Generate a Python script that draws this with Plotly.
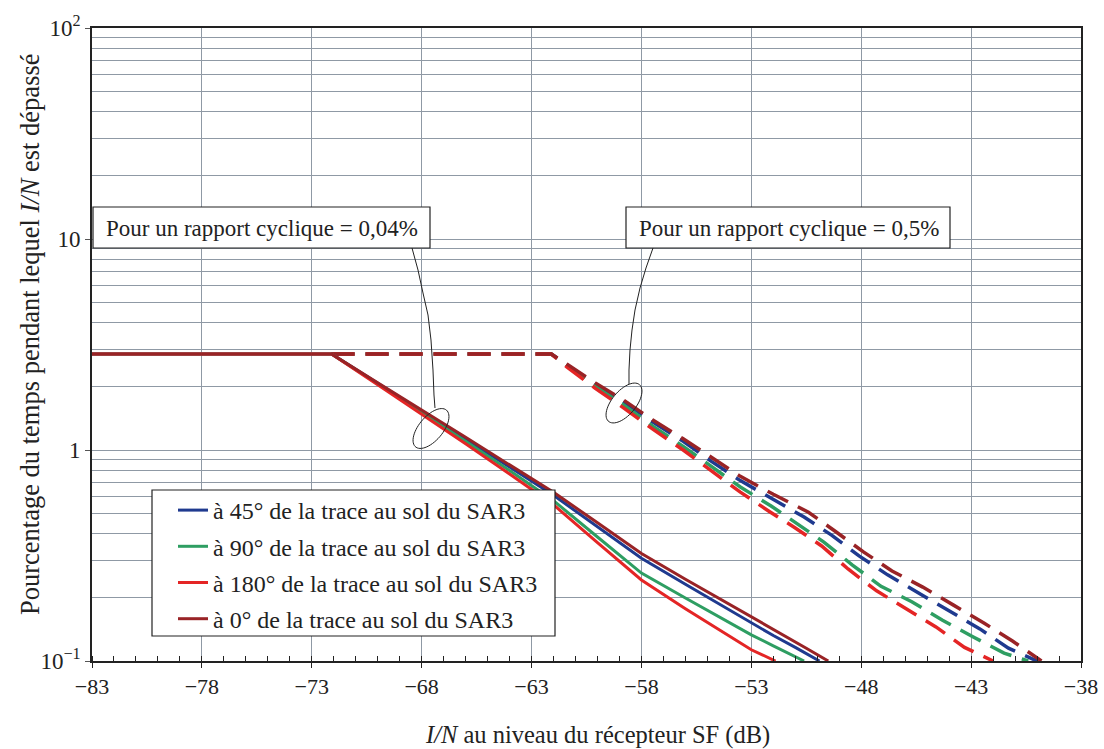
import numpy as np
import plotly.graph_objects as go

# ---------------- data ----------------
# duty cycle 0.04 % (solid)
s45_x = [-83, -72.1, -70, -68, -66, -64, -62, -60, -58, -56, -54, -53, -52, -51, -49.9]
s45_y = [2.85, 2.85, 2.07, 1.53, 1.13, 0.83, 0.61, 0.433, 0.307, 0.231, 0.174, 0.151, 0.132, 0.116, 0.1]

s90_x = [-83, -72.1, -70, -68, -66, -64, -62, -60, -58, -56, -54, -53, -52, -51, -50.6]
s90_y = [2.85, 2.85, 2.06, 1.51, 1.10, 0.80, 0.575, 0.387, 0.261, 0.199, 0.152, 0.133, 0.118, 0.105, 0.1]

s180_x = [-83, -72.1, -70, -68, -66, -64, -62, -60, -58, -56, -54, -53, -52.5, -51.9]
s180_y = [2.85, 2.85, 2.04, 1.48, 1.07, 0.77, 0.55, 0.364, 0.242, 0.177, 0.131, 0.113, 0.107, 0.1]

s0_x = [-83, -72.1, -70, -68, -66, -64, -62, -60, -58, -56, -54, -52, -50.5, -49.5]
s0_y = [2.85, 2.85, 2.08, 1.55, 1.15, 0.85, 0.63, 0.452, 0.323, 0.244, 0.186, 0.141, 0.115, 0.1]

# duty cycle 0.5 % (dashed)
d45_x = [-72.1, -62.1, -61.4, -60.1, -58.8, -57.5, -56.1, -54.8, -53.5, -52.0, -50.6, -49.35,
         -48.1, -46.8, -45.4, -44.0, -42.6, -41.3, -40.0]
d45_y = [2.85, 2.85, 2.54, 2.05, 1.69, 1.36, 1.10, 0.881, 0.716, 0.586, 0.481, 0.395,
         0.315, 0.256, 0.21, 0.173, 0.142, 0.115, 0.1]

d90_x = [-72.1, -62.1, -61.4, -60.1, -58.8, -57.5, -56.1, -54.8, -53.5, -52.1, -50.9, -49.7,
         -48.4, -47.1, -45.7, -44.3, -42.9, -41.5, -40.4]
d90_y = [2.85, 2.85, 2.51, 2.0, 1.63, 1.30, 1.04, 0.832, 0.668, 0.543, 0.447, 0.366,
         0.285, 0.226, 0.191, 0.156, 0.130, 0.109, 0.1]

d180_x = [-72.1, -62.1, -61.4, -60.1, -58.8, -57.5, -56.1, -54.8, -53.5, -52.2, -51.0, -49.8,
          -48.6, -47.3, -45.9, -44.6, -43.3, -42.0]
d180_y = [2.85, 2.85, 2.48, 1.96, 1.58, 1.26, 1.0, 0.794, 0.631, 0.513, 0.427, 0.351,
          0.273, 0.215, 0.176, 0.145, 0.116, 0.1]

d0_x = [-72.1, -62.1, -61.4, -60.1, -58.8, -57.5, -56.1, -54.8, -53.5, -52.0, -50.4, -49.2,
        -47.9, -46.6, -45.2, -43.8, -42.4, -41.1, -39.8]
d0_y = [2.85, 2.85, 2.56, 2.08, 1.72, 1.39, 1.13, 0.916, 0.75, 0.617, 0.507, 0.413,
        0.329, 0.267, 0.224, 0.184, 0.151, 0.124, 0.1]

legend_names = ["à 45° de la trace au sol du SAR3",
                "à 90° de la trace au sol du SAR3",
                "à 180° de la trace au sol du SAR3",
                "à 0° de la trace au sol du SAR3"]
label_004 = "Pour un rapport cyclique = 0,04%"
label_05 = "Pour un rapport cyclique = 0,5%"
x_title = "<i>I/N</i> au niveau du récepteur SF (dB)"
y_title = "Pourcentage du temps pendant lequel <i>I/N</i> est dépassé"

x_ticks = list(range(-83, -37, 5))
y_ticks = [0.1, 1, 10, 100]
y_ticktext = ["10<sup>−1</sup>", "1", "10", "10<sup>2</sup>"]

# ---------------- styling ----------------
colors = ["#1f3a8f", "#2e9e62", "#e42525", "#992326"]
FONT = "Liberation Serif, Times New Roman, serif"
GRID = "#8f99a5"
TXT = "#222"

# plot area in pixels
L, R, T, B = 92, 1081, 28, 661
W_, H_ = R - L, B - T


def px(x):
    return (x - L) / W_


def py(y):
    return (B - y) / H_


fig = go.Figure()

dashed = [(d45_x, d45_y), (d90_x, d90_y), (d180_x, d180_y), (d0_x, d0_y)]
solid = [(s45_x, s45_y), (s90_x, s90_y), (s180_x, s180_y), (s0_x, s0_y)]

for (xs, ys), c, n in zip(dashed, colors, legend_names):
    fig.add_trace(go.Scatter(x=xs, y=ys, mode="lines", showlegend=False, name=n,
                             line=dict(color=c, width=3.5, dash="23px,11px")))

for i, ((xs, ys), c, n) in enumerate(zip(solid, colors, legend_names)):
    fig.add_trace(go.Scatter(x=xs, y=ys, mode="lines", name=n, legendgroup=f"g{i}",
                             line=dict(color=c, width=3)))

minor_y = [m * 10.0 ** e for e in (-1, 0, 1) for m in range(2, 10)]

fig.update_xaxes(
    range=[-83, -38], tickmode="array", tickvals=x_ticks, automargin=False,
    ticks="outside", ticklen=5, tickcolor=TXT, tickwidth=1.3,
    showline=True, linecolor=TXT, linewidth=1.6, mirror=True,
    showgrid=True, gridcolor=GRID, gridwidth=1.2, zeroline=False,
    minor=dict(dtick=1, tick0=-83, ticks="inside", ticklen=5, tickcolor=TXT,
               tickwidth=1.2, showgrid=False),
    tickfont=dict(family=FONT, size=22, color=TXT),
)
fig.update_yaxes(
    type="log", range=[-1, 2], tickmode="array", tickvals=y_ticks, ticktext=y_ticktext,
    automargin=False,
    ticks="outside", ticklen=5, tickcolor="#555", tickwidth=1.2,
    showline=True, linecolor=TXT, linewidth=1.6, mirror=True,
    showgrid=True, gridcolor=GRID, gridwidth=1.2, zeroline=False,
    minor=dict(tickmode="array", tickvals=minor_y, showgrid=True, gridcolor=GRID,
               gridwidth=1.2, ticks=""),
    tickfont=dict(family=FONT, size=23, color=TXT),
)

shapes = []
# legend box
shapes.append(dict(type="rect", xref="paper", yref="paper", layer="above",
                   x0=px(152), x1=px(555), y0=py(636), y1=py(490),
                   line=dict(color=TXT, width=1.2), fillcolor="white"))
# annotation boxes
for (x0, x1) in [(93, 430), (626, 950)]:
    shapes.append(dict(type="rect", xref="paper", yref="paper", layer="above",
                       x0=px(x0), x1=px(x1), y0=py(248), y1=py(207),
                       line=dict(color=TXT, width=1.2), fillcolor="white"))


def poly_path(pts):
    return "M " + " L ".join(f"{px(a):.5f},{py(b):.5f}" for a, b in pts)


leader1 = [(412, 248), (418, 270), (423, 293), (428, 315), (431, 340), (433, 370), (434, 395), (435, 408)]
leader2 = [(653, 248), (646, 268), (640, 288), (635, 310), (632, 330), (630, 350), (629, 370), (629, 384)]
for pts in (leader1, leader2):
    shapes.append(dict(type="path", xref="paper", yref="paper", layer="above",
                       path=poly_path(pts), line=dict(color=TXT, width=1)))


def ellipse_path(cx, cy, a, b, ang_deg):
    t = np.linspace(0, 2 * np.pi, 60)
    th = np.deg2rad(ang_deg)
    xs = cx + a * np.cos(t) * np.cos(th) - b * np.sin(t) * np.sin(th)
    ys = cy - (a * np.cos(t) * np.sin(th) + b * np.sin(t) * np.cos(th))
    return poly_path(list(zip(xs, ys))) + " Z"


for (cx, cy) in [(431, 428.5), (624, 403)]:
    shapes.append(dict(type="path", xref="paper", yref="paper", layer="above",
                       path=ellipse_path(cx, cy, 24, 12, 50), line=dict(color=TXT, width=1)))

annotations = [
    dict(text=label_004, xref="paper", yref="paper", x=px(262), y=py(228),
         xanchor="center", yanchor="middle", showarrow=False,
         font=dict(family=FONT, size=23, color=TXT)),
    dict(text=label_05, xref="paper", yref="paper", x=px(789), y=py(228),
         xanchor="center", yanchor="middle", showarrow=False,
         font=dict(family=FONT, size=23, color=TXT)),
    # axis titles
    dict(text=x_title, xref="paper", yref="paper", x=px(597), y=py(735),
         xanchor="center", yanchor="middle", showarrow=False,
         font=dict(family=FONT, size=24.5, color=TXT)),
    dict(text=y_title, xref="paper", yref="paper", x=px(30), y=py(334),
         xanchor="center", yanchor="middle", showarrow=False, textangle=-90,
         font=dict(family=FONT, size=26.5, color=TXT)),
]

fig.update_layout(
    width=1104, height=749,
    margin=dict(l=L, r=1104 - R, t=T, b=749 - B),
    paper_bgcolor="white", plot_bgcolor="white",
    shapes=shapes, annotations=annotations,
    legend=dict(x=px(173), y=py(488), xanchor="left", yanchor="top",
                bgcolor="rgba(0,0,0,0)", borderwidth=0, tracegroupgap=2,
                itemwidth=30, font=dict(family=FONT, size=24, color=TXT)),
)

fig.write_html("out.html")
